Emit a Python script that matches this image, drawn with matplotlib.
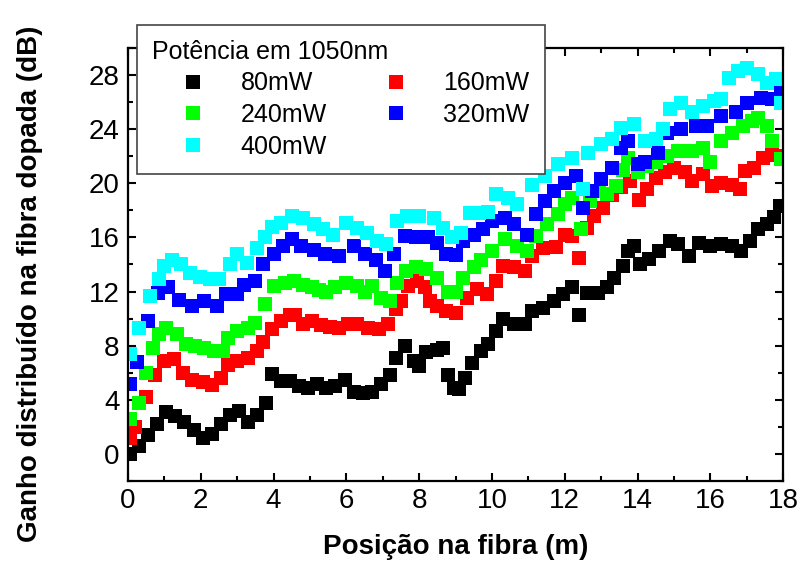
import matplotlib
matplotlib.use("Agg")
import matplotlib.pyplot as plt
from matplotlib.ticker import MultipleLocator

# =========================
# DATA
# =========================
x_80 = [0.05, 0.3, 0.55, 0.8, 1.05, 1.3, 1.55, 1.8, 2.05, 2.3,
        2.55, 2.8, 3.05, 3.3, 3.55, 3.8, 3.95, 4.2, 4.45, 4.7,
        4.95, 5.2, 5.45, 5.7, 5.95, 6.2, 6.45, 6.7, 6.95, 7.2,
        7.35, 7.6, 7.85, 8.0, 8.2, 8.5, 8.65, 8.8, 8.95, 9.1,
        9.25, 9.45, 9.7, 9.9, 10.1, 10.3, 10.6, 10.9, 11.1, 11.4,
        11.7, 11.95, 12.2, 12.4, 12.6, 12.9, 13.15, 13.35, 13.6, 13.75,
        13.9, 14.07, 14.3, 14.6, 14.9, 15.1, 15.4, 15.7, 16.0, 16.3,
        16.6, 16.85, 17.1, 17.3, 17.55, 17.75, 17.9]
y_80 = [0.0, 0.6, 1.4, 2.2, 3.1, 2.8, 2.4, 1.8, 1.2, 1.5,
        2.2, 2.9, 3.2, 2.4, 2.9, 3.8, 5.9, 5.4, 5.4, 5.0,
        4.9, 5.2, 4.9, 5.0, 5.5, 4.6, 4.5, 4.6, 5.2, 5.8,
        7.1, 8.0, 6.9, 6.5, 7.5, 7.7, 7.8, 5.8, 4.9, 4.8,
        5.6, 6.7, 7.6, 8.1, 9.1, 10.0, 9.6, 9.6, 10.6, 10.8,
        11.3, 11.8, 12.3, 10.3, 11.9, 11.9, 12.3, 13.0, 13.9, 15.0,
        15.4, 14.0, 14.4, 15.0, 15.7, 15.5, 14.6, 15.6, 15.4, 15.5,
        15.4, 15.0, 15.7, 16.6, 17.0, 17.5, 18.3]

x_160 = [0.05, 0.2, 0.5, 0.75, 1.0, 1.25, 1.5, 1.75, 2.05, 2.3,
         2.55, 2.75, 3.0, 3.3, 3.55, 3.7, 3.95, 4.2, 4.45, 4.6,
         4.8, 5.05, 5.3, 5.55, 5.8, 6.05, 6.3, 6.6, 6.9, 7.15,
         7.35, 7.5, 7.7, 7.95, 8.15, 8.3, 8.5, 8.75, 9.0, 9.3,
         9.6, 9.85, 10.1, 10.3, 10.6, 10.9, 11.1, 11.4, 11.75, 12.0,
         12.2, 12.4, 12.6, 12.8, 13.05, 13.3, 13.55, 13.8, 14.05, 14.25,
         14.5, 14.75, 15.0, 15.3, 15.5, 15.8, 16.05, 16.3, 16.6, 16.8,
         16.95, 17.2, 17.45, 17.7, 17.95]
y_160 = [1.2, 2.0, 4.2, 5.8, 6.9, 7.0, 6.0, 5.5, 5.3, 5.1,
         5.6, 6.6, 6.9, 7.1, 7.6, 8.3, 9.2, 9.8, 10.3, 10.3,
         9.6, 9.8, 9.5, 9.4, 9.3, 9.6, 9.6, 9.3, 9.2, 9.6,
         10.7, 11.3, 12.4, 12.8, 12.3, 11.3, 10.9, 10.6, 10.4, 11.5,
         12.2, 11.8, 12.8, 13.9, 13.8, 13.5, 14.6, 15.2, 15.3, 16.2,
         16.1, 14.5, 16.7, 17.6, 18.2, 19.1, 19.7, 20.2, 18.8, 19.6,
         20.4, 20.8, 21.1, 20.8, 20.2, 20.7, 19.8, 20.0, 19.9, 19.6,
         20.9, 21.1, 21.9, 22.1, 22.0]

x_240 = [0.05, 0.3, 0.5, 0.7, 0.85, 1.05, 1.35, 1.6, 1.85, 2.1,
         2.35, 2.6, 2.75, 3.0, 3.3, 3.5, 3.75, 4.0, 4.3, 4.55,
         4.8, 5.05, 5.25, 5.45, 5.7, 6.0, 6.3, 6.5, 6.7, 6.95,
         7.2, 7.4, 7.65, 7.9, 8.2, 8.5, 8.8, 9.0, 9.2, 9.5,
         9.7, 10.0, 10.35, 10.7, 10.95, 11.2, 11.5, 11.8, 12.0, 12.2,
         12.45, 12.7, 12.95, 13.15, 13.4, 13.6, 13.75, 14.0, 14.25, 14.5,
         14.8, 15.1, 15.5, 15.8, 16.0, 16.3, 16.6, 16.9, 17.15, 17.3,
         17.55, 17.7, 17.95]
y_240 = [2.6, 3.8, 6.0, 7.8, 8.9, 9.3, 8.9, 8.1, 8.0, 7.8,
         7.6, 7.6, 8.6, 9.1, 9.3, 9.7, 11.1, 12.4, 12.6, 12.8,
         12.5, 12.3, 12.1, 12.0, 12.3, 12.6, 12.4, 12.0, 12.4, 11.5,
         11.3, 12.6, 13.5, 13.8, 13.7, 13.0, 12.0, 12.0, 13.0, 13.8,
         14.3, 15.0, 15.9, 15.4, 15.0, 16.1, 17.0, 17.7, 18.5, 18.9,
         16.6, 18.7, 19.4, 19.2, 19.8, 21.0, 21.9, 20.8, 21.3, 21.6,
         22.0, 22.4, 22.4, 22.6, 21.6, 23.1, 23.7, 24.2, 24.6, 24.8,
         24.2, 23.1, 21.8]

x_320 = [0.05, 0.25, 0.55, 0.83, 1.1, 1.4, 1.75, 2.1, 2.45, 2.7,
         3.0, 3.2, 3.5, 3.7, 4.0, 4.25, 4.5, 4.75, 5.1, 5.4,
         5.8, 6.2, 6.5, 6.8, 7.05, 7.3, 7.6, 7.9, 8.25, 8.5,
         8.75, 9.0, 9.2, 9.5, 9.75, 10.0, 10.35, 10.6, 10.95, 11.2,
         11.45, 11.7, 12.0, 12.3, 12.5, 12.75, 13.0, 13.3, 13.55, 13.75,
         14.0, 14.2, 14.55, 14.8, 15.2, 15.6, 15.9, 16.3, 16.7, 17.0,
         17.4, 17.7, 17.95]
y_320 = [5.2, 6.8, 9.8, 11.9, 12.3, 11.4, 10.9, 11.3, 10.9, 11.8,
         11.8, 12.5, 12.8, 14.0, 14.8, 15.4, 15.9, 15.4, 15.1, 14.8,
         14.6, 15.4, 14.8, 14.3, 13.5, 14.8, 16.1, 16.0, 16.0, 15.6,
         14.8, 14.7, 15.7, 16.2, 16.6, 17.2, 17.4, 17.0, 16.2, 17.7,
         18.7, 19.4, 20.0, 20.5, 18.2, 19.4, 20.3, 21.1, 22.6, 23.1,
         21.4, 21.6, 22.2, 23.7, 24.0, 24.2, 24.2, 25.0, 25.3, 25.9,
         26.3, 26.2, 26.7]

x_400 = [0.05, 0.3, 0.6, 0.85, 1.0, 1.2, 1.45, 1.7, 1.97, 2.25,
         2.5, 2.8, 3.0, 3.27, 3.55, 3.76, 3.95, 4.2, 4.5, 4.8,
         5.1, 5.36, 5.63, 6.0, 6.3, 6.56, 6.84, 7.1, 7.4, 7.66,
         8.0, 8.4, 8.65, 8.9, 9.15, 9.4, 9.65, 9.9, 10.1, 10.45,
         10.7, 11.1, 11.45, 11.8, 12.2, 12.5, 12.65, 13.0, 13.3, 13.55,
         13.9, 14.2, 14.5, 14.7, 14.9, 15.2, 15.5, 15.8, 16.1, 16.3,
         16.5, 16.75, 17.0, 17.3, 17.55, 17.8, 17.95]
y_400 = [7.4, 9.3, 11.7, 12.9, 13.9, 14.3, 14.0, 13.4, 13.1, 12.9,
         12.9, 14.0, 14.8, 14.1, 15.2, 16.0, 16.8, 17.1, 17.6, 17.4,
         17.0, 16.6, 16.2, 17.1, 16.7, 16.3, 15.7, 15.5, 17.2, 17.6,
         17.6, 17.4, 16.7, 16.0, 16.3, 17.8, 17.8, 17.9, 19.2, 18.9,
         18.5, 19.9, 20.5, 21.4, 21.9, 19.6, 22.2, 22.9, 23.3, 24.1,
         24.4, 23.1, 23.3, 24.0, 25.5, 25.9, 25.3, 25.7, 26.1, 26.2,
         27.8, 28.3, 28.5, 28.1, 27.4, 27.7, 25.9]

series = [
    ("80mW", x_80, y_80, "#000000"),
    ("160mW", x_160, y_160, "#ff0000"),
    ("240mW", x_240, y_240, "#00ff00"),
    ("320mW", x_320, y_320, "#0000ff"),
    ("400mW", x_400, y_400, "#00ffff"),
]

# =========================
# STYLE
# =========================
plt.rcParams["font.family"] = ["Liberation Sans", "DejaVu Sans"]
plt.rcParams["axes.linewidth"] = 1.6

fig = plt.figure(figsize=(8, 5.7), dpi=100)
ax = fig.add_axes([0.16, 0.156, 0.819, 0.76])

handles = {}
for name, xs, ys, col in series:
    h, = ax.plot(xs, ys, linestyle="none", marker="s", markersize=10.5,
                 markeredgewidth=0, color=col, label=name)
    handles[name] = h

ax.set_xlim(0, 18)
ax.set_ylim(-2, 30)
ax.xaxis.set_major_locator(MultipleLocator(2))
ax.xaxis.set_minor_locator(MultipleLocator(1))
ax.yaxis.set_minor_locator(MultipleLocator(2))
ax.set_yticks([0, 4, 8, 12, 16, 20, 24, 28])

ax.tick_params(which="both", direction="in", top=True, right=True, width=1.5)
ax.tick_params(which="major", length=6, labelsize=20)
ax.tick_params(axis="x", which="major", pad=5)
ax.tick_params(axis="y", which="major", pad=6)
ax.tick_params(which="minor", length=3.5)

ax.set_xlabel("Posição na fibra (m)", fontsize=20, fontweight="bold")
ax.set_ylabel("Ganho distribuído na fibra dopada (dB)", fontsize=20, fontweight="bold")
ax.xaxis.set_label_coords(0.5, -0.122)
ax.yaxis.set_label_coords(-0.13, 0.455)

# legend: column-wise fill -> 80, 240, 400 | 160, 320
order = ["80mW", "240mW", "400mW", "160mW", "320mW"]
leg = ax.legend([handles[k] for k in order], order, ncol=2,
                title="Potência em 1050nm", title_fontsize=18, fontsize=18,
                loc="upper left", bbox_to_anchor=(137 / 800, 1 - 25 / 570),
                bbox_transform=fig.transFigure, borderaxespad=0,
                fancybox=False, framealpha=1, edgecolor="#444444",
                alignment="left", handletextpad=0.25, columnspacing=1.1,
                labelspacing=0.3, borderpad=0.6, handlelength=3.3)
leg.get_frame().set_linewidth(1.2)

fig.savefig("out.png", dpi=100)
